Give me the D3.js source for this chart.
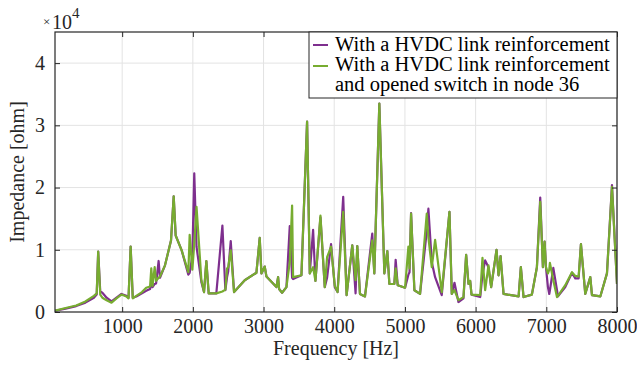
<!DOCTYPE html>
<html><head><meta charset="utf-8">
<script src="https://cdn.jsdelivr.net/npm/d3@7"></script>
<style>html,body{margin:0;padding:0;background:#fff;}svg{display:block;}</style>
</head><body>
<svg id="chart" width="637" height="366"></svg>
<script>
const freq = [50,200,350,480,600,640,661,690,720,780,850,920,990,1060,1090,1120,1150,1200,1280,1340,1395,1412,1430,1460,1480,1516,1535,1606,1691,1729,1757,1842,1936,1955,1993,2020,2052,2121,2158,2191,2224,2332,2418,2460,2484,2500,2536,2583,2734,2899,2946,2970,3017,3041,3182,3206,3220,3262,3324,3371,3404,3418,3536,3616,3654,3701,3734,3805,3866,3899,3955,4008,4047,4127,4175,4255,4302,4326,4364,4435,4538,4567,4638,4709,4751,4780,4850,4869,4898,5002,5049,5065,5087,5134,5214,5309,5332,5380,5427,5521,5630,5663,5701,5757,5828,5866,5899,5923,5942,6065,6097,6135,6182,6220,6296,6324,6353,6395,6608,6640,6678,6796,6867,6914,6952,6976,6995,7023,7042,7051,7099,7151,7165,7268,7363,7410,7457,7490,7551,7622,7646,7764,7858,7929,8000];
const purple = [200,550,950,1500,2300,2800,9700,3300,3100,2300,1700,2300,2900,2600,2300,10500,2300,2500,3000,3400,3700,4800,4000,4500,4600,8200,5500,7500,11500,18600,12300,9900,6000,6300,9000,22300,10500,4800,3200,8200,3000,3000,13900,3500,5600,6500,11400,3200,5100,6300,11900,6200,7300,5700,4000,5600,3700,3100,4000,13800,5500,5300,5900,30600,6200,13200,5000,15200,4000,5500,10900,4000,3200,18500,2700,10700,3000,10600,2900,2500,12600,6200,33500,6200,9800,4500,4500,8400,4300,3900,6000,6400,15900,3500,2900,13000,16600,8000,5600,2700,16100,2900,4700,1600,2200,9200,4500,5000,2800,2400,6000,8300,7200,4000,10000,5900,9000,2900,2500,7200,2400,2800,7200,18400,7200,11300,7200,4000,2900,3500,7100,3500,2500,4000,6300,5400,5400,10900,2900,5600,2700,2500,6200,20400,4500];
const green = [200,650,1050,1700,2600,3000,9700,2800,2300,1900,1500,2200,2800,2500,2200,10500,2200,2600,3200,3900,4100,7000,4200,7200,5000,5500,5700,7500,11500,18600,12300,9900,6400,12400,6800,11000,16900,5100,3200,8200,3000,3000,3300,3600,7000,7200,9900,3200,5100,6300,11900,6200,7300,5700,4000,5600,3700,3100,4000,8000,17100,5600,5900,30600,6200,7200,5000,15500,4000,8800,10500,4200,3200,16100,2700,10700,5100,10600,2900,2500,11500,6200,33500,6200,9800,4500,4500,7000,4300,3900,10500,7000,15800,3500,2900,15800,12000,7200,11600,3200,16100,2900,3500,1900,2400,9200,4500,5000,2800,2700,8700,3500,7500,4000,10000,5900,9000,2900,2500,7200,2400,2800,7200,17700,7200,11300,7200,6200,6800,7900,5100,2400,2600,4300,6400,5800,5700,10900,2900,5600,2700,2500,6200,20100,4500];
const xTicks = [1000,2000,3000,4000,5000,6000,7000,8000];
const yTicks = [0,10000,20000,30000,40000];
const yTickLabels = ["0","1","2","3","4"];
const seriesNames = ["With a HVDC link reinforcement", "With a HVDC link reinforcement\nand opened switch in node 36"];
const seriesColors = ["#7E2F8E", "#77AC30"];

const svg = d3.select("#chart");
const L = 55, R = 617, T = 32, B = 312;
const x = d3.scaleLinear().domain([50, 8000]).range([L, R]);
const y = d3.scaleLinear().domain([0, 45000]).range([B, T]);
const axisColor = "#262626";
const font = "'Liberation Serif','Times New Roman',serif";

// grid
const g = svg.append("g");
g.selectAll(".gx").data(xTicks).join("line")
  .attr("x1", d => x(d)).attr("x2", d => x(d)).attr("y1", T).attr("y2", B)
  .attr("stroke", "#e3e3e3").attr("stroke-width", 1);
g.selectAll(".gy").data(yTicks.slice(1)).join("line")
  .attr("x1", L).attr("x2", R).attr("y1", d => y(d)).attr("y2", d => y(d))
  .attr("stroke", "#e3e3e3").attr("stroke-width", 1);

// lines
svg.append("clipPath").attr("id", "clip").append("rect")
  .attr("x", L).attr("y", T).attr("width", R - L).attr("height", B - T);
const line = d3.line().x((d, i) => x(freq[i])).y(d => y(d));
[purple, green].forEach((s, k) => {
  svg.append("path").datum(s).attr("d", line)
    .attr("fill", "none").attr("stroke", seriesColors[k]).attr("stroke-width", 2.2)
    .attr("stroke-linejoin", "round").attr("clip-path", "url(#clip)");
});

// axes
const xb = svg.append("g").attr("transform", `translate(0,${B})`)
  .call(d3.axisBottom(x).tickValues(xTicks).tickSizeInner(-5).tickSizeOuter(0).tickPadding(10).tickFormat(d3.format("d")));
const xt = svg.append("g").attr("transform", `translate(0,${T})`)
  .call(d3.axisTop(x).tickValues(xTicks).tickSizeInner(-5).tickSizeOuter(0).tickFormat(""));
const yl = svg.append("g").attr("transform", `translate(${L},0)`)
  .call(d3.axisLeft(y).tickValues(yTicks).tickSizeInner(-5).tickSizeOuter(0).tickPadding(10).tickFormat((d, i) => yTickLabels[i]));
const yr = svg.append("g").attr("transform", `translate(${R},0)`)
  .call(d3.axisRight(y).tickValues(yTicks).tickSizeInner(-5).tickSizeOuter(0).tickFormat(""));
[xb, xt, yl, yr].forEach(a => {
  a.select(".domain").remove();
  a.selectAll("line").attr("stroke", axisColor).attr("stroke-width", 1);
  a.selectAll("text").attr("fill", axisColor).style("font-family", font).style("font-size", "20px");
});
xb.selectAll("text").attr("dy", null).attr("y", 21);
svg.append("rect").attr("x", L).attr("y", T).attr("width", R - L).attr("height", B - T)
  .attr("fill", "none").attr("stroke", axisColor).attr("stroke-width", 1.2);

// labels
svg.append("text").attr("x", (L + R) / 2).attr("y", 355).attr("text-anchor", "middle")
  .attr("fill", axisColor).style("font-family", font).style("font-size", "20px").text("Frequency [Hz]");
svg.append("text").attr("transform", `translate(24,${(T + B) / 2}) rotate(-90)`).attr("text-anchor", "middle")
  .attr("fill", axisColor).style("font-family", font).style("font-size", "20px").text("Impedance [ohm]");
const ex = svg.append("text").attr("fill", axisColor).style("font-family", font);
ex.append("tspan").attr("x", 43).attr("y", 26).style("font-size", "13px").text("×");
ex.append("tspan").attr("x", 52).attr("y", 29).style("font-size", "20px").text("10");
ex.append("tspan").attr("x", 72).attr("y", 18).style("font-size", "15px").text("4");

// legend
const lg = svg.append("g");
lg.append("rect").attr("x", 309).attr("y", T).attr("width", R - 309).attr("height", 66)
  .attr("fill", "#fff").attr("stroke", axisColor).attr("stroke-width", 1);
const legY = [45, 66];
const textY = [[51], [71], [91]];
const lt = lg.append("text").attr("fill", "#000")
  .style("font-family", font).style("font-size", "20.5px");
let row = 0;
seriesNames.forEach((n, k) => {
  lg.append("line").attr("x1", 313).attr("x2", 328).attr("y1", legY[k]).attr("y2", legY[k])
    .attr("stroke", seriesColors[k]).attr("stroke-width", 2);
  n.split("\n").forEach((s) => {
    lt.append("tspan").attr("x", 335).attr("y", textY[row++][0]).text(s);
  });
});
</script>
</body></html>
